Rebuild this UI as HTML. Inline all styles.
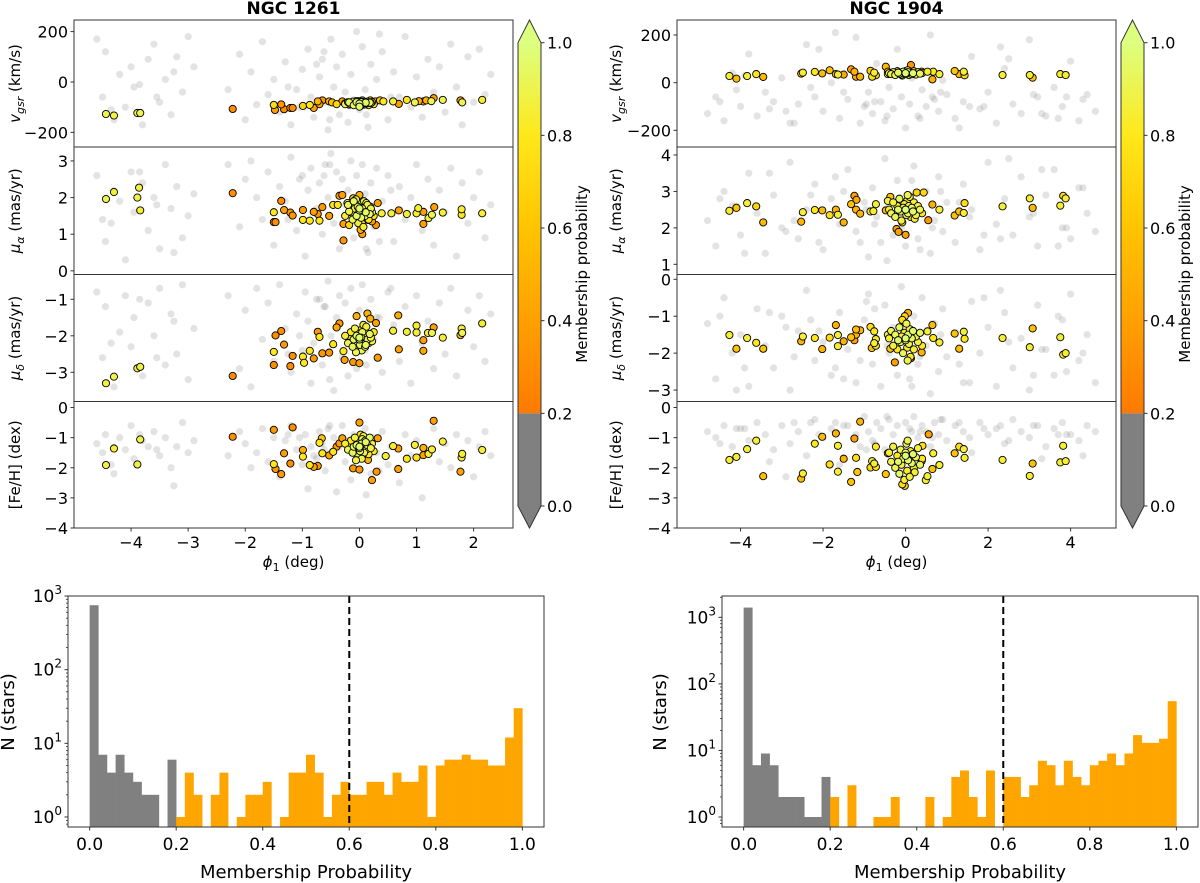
<!DOCTYPE html>
<html><head><meta charset="utf-8"><style>
body{margin:0;background:#fff}
svg{display:block;font-family:"DejaVu Sans","Liberation Sans",sans-serif}
</style></head><body>
<svg id="fig" width="1200" height="883" viewBox="0 0 1200 883" xmlns="http://www.w3.org/2000/svg">
<defs>
<linearGradient id="cmap" x1="0" y1="1" x2="0" y2="0">
<stop offset="0" stop-color="#ff7a00"/><stop offset="0.25" stop-color="#ffa000"/><stop offset="0.5" stop-color="#ffc400"/><stop offset="0.75" stop-color="#ffe81a"/><stop offset="1" stop-color="#dcff80"/>
</linearGradient>
</defs>
</svg>
<script>
// ---------- DATA ----------
const histCountsL=[750,7,4,7,4,3,2,2,0,6,1,4,2,0,2,4,0,1,2,2,3,0,1,4,4,7,4,1,2,3,2,2,3,3,2,4,3,3,5,1,5,6,6,7,6,6,5,5,12,30];
const histCountsR=[1400,6,9,6,2,2,2,1,1,4,2,0,3,0,0,1,1,2,0,0,0,2,0,1,4,5,2,1,5,0,4,4,2,3,7,6,3,7,4,3,6,7,9,6,9,17,13,13,15,55];
const histTicksX=[0,0.2,0.4,0.6,0.8,1.0];
const cbTicks=[0,0.2,0.4,0.6,0.8,1.0];

const bgPhiL=[-4.6,-4.5,-4.45,-4.3,-4.2,-4.1,-4.0,-3.95,-3.8,-3.7,-3.6,-3.5,-3.4,-3.3,-3.2,-3.1,-3.0,-2.9,-4.35,-3.85,-3.55,-3.25,-2.3,-2.1,-2.0,-1.9,-1.8,-1.7,-1.6,-1.5,-1.4,-1.3,-1.2,-1.1,-1.0,-0.95,-0.9,-0.85,-0.8,-0.7,-0.65,-0.6,-0.55,-0.5,-0.45,-0.4,-0.35,-0.3,-0.25,-0.2,-0.15,-0.1,-0.05,0.0,0.05,0.1,0.15,0.2,0.25,0.3,0.4,0.5,0.6,0.7,0.8,0.9,1.0,1.1,1.2,1.3,1.4,1.5,1.6,1.7,1.8,1.9,2.0,2.1,2.2,2.3,-1.05,-0.75,-0.52,0.35,0.55,-1.25,-0.62,0.12];
const bgVL=[170,-60,120,-150,30,-100,60,-20,-170,90,150,-80,10,-130,100,-40,180,60,-110,-10,-60,40,-30,110,-150,40,-90,160,-50,10,-120,80,-170,-30,50,-100,130,-60,-140,20,90,-80,-190,170,-20,60,-130,110,-40,-160,30,-70,200,-110,140,-30,-180,70,-90,10,120,-150,40,-60,180,-100,20,-140,90,-40,60,-120,150,-20,-170,100,-80,130,-50,30,-100,70,-150,190,-60,-20,120,-130];
const bgPmraL=[2.6,1.4,0.8,2.2,1.9,0.3,2.7,1.6,2.4,1.1,2.0,0.6,2.9,1.7,2.3,0.9,1.5,2.1,1.3,2.7,1.8,0.5,2.9,1.2,2.5,3.0,2.0,1.4,2.7,0.7,2.3,1.9,3.1,1.1,2.6,0.4,2.2,2.8,1.6,2.4,1.0,2.9,2.0,3.2,1.3,2.7,0.6,2.5,1.8,2.2,3.0,0.9,2.6,1.5,2.9,2.1,0.5,2.4,1.2,2.8,1.9,2.6,0.8,2.3,1.4,2.0,2.9,1.1,2.5,0.7,2.2,1.6,2.8,0.4,2.4,1.3,2.0,2.7,0.9,1.8,2.5,1.7,2.9,0.8,2.2,1.4,2.6,0.6];
const bgPmdecL=[-0.8,-2.6,-1.2,-3.4,-1.9,-0.9,-2.3,-1.5,-3.1,-1.1,-2.0,-0.7,-2.8,-1.4,-2.5,-0.6,-3.2,-1.8,-2.2,-1.0,-2.6,-1.6,-0.9,-2.9,-1.3,-3.4,-0.7,-2.1,-1.1,-2.7,-0.6,-1.8,-3.0,-1.4,-2.4,-0.8,-1.6,-3.3,-2.2,-1.0,-2.8,-1.2,-0.5,-2.0,-3.5,-1.5,-0.9,-2.6,-1.1,-3.1,-0.7,-1.9,-2.9,-1.3,-0.6,-2.4,-3.4,-1.0,-2.1,-1.5,-3.0,-0.8,-1.7,-2.7,-1.2,-3.3,-0.9,-2.2,-1.6,-2.9,-1.1,-2.5,-0.7,-3.1,-1.8,-1.3,-2.3,-0.9,-2.7,-1.4,-2.0,-1.0,-3.2,-1.5,-0.7,-2.5,-1.2,-2.8];
const bgFehL=[-1.2,-1.5,-0.9,-2.2,-1.0,-1.4,-0.6,-1.7,-1.1,-1.3,-0.8,-1.6,-1.0,-2.0,-1.3,-0.5,-1.5,-1.1,-1.9,-0.9,-1.4,-2.6,-1.6,-0.8,-1.2,-2.0,-1.5,-0.7,-1.8,-1.0,-2.3,-1.1,-0.6,-1.4,-1.9,-0.9,-2.7,-1.3,-1.6,-0.8,-1.2,-2.1,-0.7,-1.5,-1.0,-2.8,-1.3,-0.6,-1.8,-1.1,-2.4,-0.9,-1.4,-3.6,-1.2,-0.7,-1.7,-2.2,-1.0,-1.5,-0.8,-1.9,-1.3,-2.5,-0.9,-1.6,-1.1,-3.0,-1.4,-0.7,-1.8,-1.2,-2.0,-0.9,-1.5,-1.1,-2.3,-1.3,-0.8,-1.6,-1.0,-1.7,-0.6,-2.1,-1.3,-0.9,-1.4,-2.9];

const bgPhiR=[-4.8,-4.6,-4.4,-4.2,-4.0,-3.8,-3.6,-3.4,-3.2,-3.0,-2.8,-2.6,-2.4,-2.2,-2.0,-1.8,-1.6,-1.4,-1.2,-1.0,-0.9,-0.8,-0.7,-0.6,-0.5,-0.4,-0.3,-0.2,-0.1,0.0,0.1,0.2,0.3,0.4,0.5,0.6,0.7,0.8,0.9,1.0,1.2,1.4,1.6,1.8,2.0,2.2,2.4,2.6,2.8,3.0,3.2,3.4,3.6,3.8,4.0,4.2,4.4,4.6,-4.5,-3.9,-3.3,-2.7,-2.1,-1.5,-0.95,-0.45,0.15,0.65,1.3,1.9,2.5,3.1,3.7,4.3,-4.1,-2.9,-1.7,-0.75,0.35,0.85,1.55,2.3,3.3,3.9,-2.3,-1.1];
const bgVR=[-130,-60,-160,40,-100,120,-140,-40,-80,20,-170,-90,160,-60,-120,0,-150,-70,190,-100,-40,-130,80,-80,-160,-20,-110,140,-60,-190,-90,50,-140,-30,-100,200,-70,-120,10,-50,-150,-80,110,-110,-40,-170,60,-90,-130,180,-60,-140,-20,-100,90,-160,-50,-120,-80,30,-110,-170,140,-40,-90,-140,20,-60,-190,-100,100,-50,-150,-70,-30,-120,210,-80,-150,-40,-100,150,-130,-60,-20,-170];
const bgPmraR=[2.2,1.5,3.0,2.6,1.8,3.5,2.4,1.3,2.9,2.0,3.8,1.7,2.5,3.2,1.4,2.8,2.1,3.6,1.9,2.7,1.2,3.1,2.3,1.6,3.9,2.6,1.8,3.3,2.0,1.5,2.9,3.7,1.7,2.4,3.0,1.3,2.2,3.4,1.9,2.7,1.6,3.2,2.5,1.4,3.8,2.1,2.8,1.8,3.4,2.3,1.5,2.9,3.6,2.0,1.7,3.1,2.4,1.9,2.8,1.3,3.5,2.2,1.6,3.0,2.5,1.1,3.3,2.0,2.7,1.8,3.9,2.4,1.5,3.1,2.6,1.9,3.4,2.1,1.4,3.0,2.3,1.7,3.6,2.0,2.9,1.6];
const bgPmdecR=[-1.2,-2.7,-0.5,-2.0,-1.5,-2.9,-0.8,-1.8,-2.4,-1.0,-3.0,-1.4,-0.3,-2.2,-1.7,-2.6,-0.9,-1.9,-2.8,-1.1,-0.4,-2.3,-1.6,-2.9,-0.7,-2.0,-1.3,-2.6,-0.2,-1.9,-2.7,-1.0,-2.3,-0.5,-1.8,-3.1,-1.2,-2.5,-0.8,-2.1,-1.5,-2.8,-0.6,-2.0,-1.3,-2.9,-0.9,-2.4,-1.6,-3.0,-0.7,-1.9,-2.6,-1.1,-0.4,-2.2,-1.5,-2.8,-1.0,-2.4,-0.9,-2.1,-1.4,-2.7,-0.6,-1.8,-2.9,-1.2,-2.3,-0.5,-1.7,-2.6,-1.0,-2.0,-3.0,-1.3,-2.4,-0.8,-2.1,-1.5,-2.8,-0.3,-1.9,-2.5,-1.1,-2.2];
const bgFehR=[-0.8,-1.0,-0.6,-1.3,-0.7,-1.1,-0.5,-0.9,-1.4,-0.6,-1.2,-0.8,-1.6,-0.4,-1.0,-0.7,-1.9,-0.6,-0.9,-0.3,-0.8,-1.1,-0.5,-0.7,-1.4,-0.4,-0.9,-0.6,-2.1,-0.5,-0.7,-0.3,-1.0,-0.6,-0.8,-1.3,-0.5,-0.9,-0.4,-1.1,-0.6,-0.8,-1.5,-0.5,-0.9,-0.7,-1.2,-0.4,-0.8,-1.0,-0.6,-1.3,-0.7,-0.5,-0.9,-1.1,-0.6,-0.8,-1.2,-0.7,-1.8,-0.5,-0.9,-0.6,-1.4,-0.3,-0.8,-1.0,-0.5,-0.7,-1.1,-0.6,-0.9,-1.6,-0.7,-2.3,-0.5,-1.2,-0.8,-0.4,-1.0,-0.6,-1.7,-0.9,-0.5,-1.3];

const corePhiL=[-0.25,-0.2,-0.15,-0.12,-0.1,-0.08,-0.05,-0.03,-0.02,0,0.01,0.02,0.03,0.04,0.05,0.06,0.08,0.1,0.12,0.14,0.16,0.18,0.2,0.22,0.25,-0.18,-0.06,0.07,0.11,0.0];
const coreVL=[-85,-80,-88,-78,-92,-84,-80,-90,-76,-86,-82,-94,-80,-78,-88,-84,-90,-80,-86,-78,-92,-82,-84,-80,-88,-90,-76,-86,-82,-98];
const corePmraL=[1.5,1.8,1.6,1.4,1.9,1.7,1.5,1.75,1.3,1.65,1.55,1.85,1.45,1.6,1.7,1.35,1.9,1.5,1.65,1.8,1.4,1.55,1.7,1.6,1.5,1.25,1.95,1.2,1.6,1.7];
const corePmdecL=[-2.0,-2.2,-1.9,-2.3,-2.1,-1.8,-2.0,-2.35,-1.95,-2.1,-2.25,-1.85,-2.05,-2.4,-1.9,-2.15,-2.0,-2.3,-1.75,-2.1,-2.2,-1.95,-2.05,-2.15,-1.9,-2.0,-2.45,-1.7,-2.25,-2.05];
const coreFehL=[-1.2,-1.4,-1.1,-1.5,-1.3,-1.0,-1.25,-1.6,-1.15,-1.35,-1.45,-0.9,-1.2,-1.7,-1.05,-1.3,-1.5,-1.1,-1.4,-1.25,-1.55,-1.0,-1.35,-1.2,-1.45,-1.3,-1.75,-0.95,-1.15,-1.3];
const coreProbL=[0.85,0.9,0.8,0.92,0.95,0.88,0.96,0.9,0.85,0.97,0.93,0.8,0.95,0.9,0.92,0.75,0.88,0.94,0.86,0.9,0.82,0.95,0.9,0.87,0.8,0.7,0.9,0.85,0.95,0.97];

const corePhiR=[-0.4,-0.35,-0.3,-0.25,-0.2,-0.15,-0.12,-0.1,-0.06,-0.03,0,0.02,0.04,0.06,0.08,0.1,0.12,0.15,0.18,0.2,0.25,0.3,0.35,0.4,-0.08,0.05,-0.18,0.22,0.0,-0.02];
const coreVR=[40,36,44,32,48,38,42,34,46,40,36,50,38,44,32,42,46,36,40,48,34,44,38,40,30,52,42,36,40,44];
const corePmraR=[2.5,2.4,2.7,2.3,2.6,2.8,2.45,2.2,2.55,2.65,2.5,2.35,2.75,2.4,2.6,2.85,2.3,2.55,2.45,2.7,2.35,2.6,2.5,2.4,2.15,2.9,2.5,2.25,2.5,2.6];
const corePmdecR=[-1.6,-1.4,-1.8,-1.5,-1.9,-1.3,-1.7,-1.55,-2.0,-1.45,-1.65,-1.2,-1.85,-1.5,-1.75,-1.35,-2.1,-1.6,-1.4,-1.9,-1.55,-1.7,-1.45,-1.8,-1.1,-2.2,-1.65,-1.5,-1.6,-1.0];
const coreFehR=[-1.5,-1.8,-1.3,-2.0,-1.6,-2.2,-1.4,-1.9,-1.7,-2.4,-1.5,-1.2,-2.1,-1.75,-1.6,-2.3,-1.45,-1.85,-1.55,-2.0,-1.65,-1.35,-1.9,-1.7,-2.55,-1.1,-1.8,-2.15,-1.6,-2.6];
const coreProbR=[0.85,0.9,0.88,0.92,0.8,0.95,0.9,0.87,0.93,0.85,0.97,0.9,0.82,0.95,0.9,0.88,0.8,0.93,0.96,0.85,0.9,0.87,0.92,0.8,0.75,0.9,0.95,0.85,0.98,0.7];

const mPhiL1=[-4.44,-4.30,-3.89,-3.84,-2.22,-1.5,-1.48,-1.37,-1.32,-1.21,-1.17,-0.99,-0.87,-0.8,-0.73,-0.7,-0.65,-0.53,-0.48,-0.4,-0.3,-0.25,-0.18,-0.11,-0.05,0,0.05,0.09,0.14,0.19,0.28,0.36,0.42,0.59,0.69,0.83,0.97,1.04,1.12,1.17,1.26,1.3,1.46,1.77,1.8,2.15];
const mValL1=[-127,-133,-123,-123,-107,-91,-111,-89,-108,-103,-103,-95,-91,-103,-77,-88,-73,-77,-81,-88,-77,-88,-81,-84,-81,-89,-73,-84,-81,-73,-77,-73,-77,-77,-87,-71,-81,-76,-77,-73,-76,-64,-71,-73,-81,-71];
const mProbL1=[0.9,0.88,0.9,0.9,0.3,0.75,0.4,0.35,0.3,0.3,0.3,0.7,0.8,0.4,0.5,0.45,0.35,0.5,0.6,0.7,0.4,0.9,0.95,0.9,0.95,0.95,0.8,0.95,0.9,0.5,0.4,0.6,0.8,0.85,0.4,0.8,0.9,0.5,0.4,0.5,0.9,0.4,0.9,0.4,0.9,0.85];
const mPhiL2=[-4.44,-4.3,-3.89,-3.86,-3.84,-2.22,-1.5,-1.5,-1.47,-1.37,-1.32,-1.21,-1.17,-0.99,-0.99,-0.87,-0.8,-0.73,-0.7,-0.65,-0.53,-0.46,-0.38,-0.35,-0.3,-0.28,-0.28,-0.21,-0.18,-0.11,-0.08,-0.05,0,0.02,0.05,0.09,0.12,0.15,0.19,0.22,0.29,0.32,0.39,0.56,0.69,0.83,1.0,1.03,1.12,1.12,1.21,1.27,1.31,1.46,1.79,1.79,2.15];
const mValL2=[1.96,2.15,2.0,2.27,1.65,2.12,1.6,1.33,1.33,1.91,1.66,1.59,1.51,1.66,1.39,1.37,1.61,1.55,1.37,1.74,1.5,1.8,1.8,2.05,2.07,1.28,0.83,1.85,1.62,1.98,1.57,1.89,2.07,1.12,1.0,1.57,1.85,1.39,1.75,1.35,1.25,1.85,1.57,1.57,1.65,1.55,1.57,1.71,1.61,1.28,1.44,1.53,1.74,1.59,1.68,1.53,1.57];
const mProbL2=[0.9,0.85,0.9,0.88,0.85,0.3,0.8,0.3,0.3,0.3,0.4,0.35,0.35,0.4,0.8,0.8,0.4,0.35,0.8,0.35,0.4,0.8,0.8,0.4,0.4,0.4,0.35,0.85,0.9,0.6,0.8,0.7,0.5,0.5,0.4,0.9,0.9,0.8,0.8,0.4,0.35,0.4,0.85,0.85,0.4,0.85,0.85,0.85,0.4,0.4,0.85,0.9,0.4,0.85,0.85,0.8,0.85];
const mPhiL3=[-4.44,-4.3,-3.89,-3.84,-2.22,-1.5,-1.5,-1.47,-1.37,-1.32,-1.21,-1.17,-0.99,-0.97,-0.87,-0.8,-0.73,-0.7,-0.65,-0.53,-0.46,-0.4,-0.35,-0.28,-0.26,-0.11,-0.05,0,0.14,0.19,0.29,0.32,0.59,0.68,0.69,0.83,1.0,1.0,1.12,1.12,1.2,1.27,1.3,1.46,1.77,1.79,1.8,2.15];
const mValL3=[-3.3,-3.12,-2.89,-2.85,-3.1,-2.44,-2.8,-1.99,-1.87,-2.24,-2.83,-2.55,-2.57,-2.74,-2.41,-2.62,-1.89,-2.03,-2.48,-2.46,-2.23,-1.77,-1.66,-2.42,-2.66,-2.72,-1.46,-2.75,-1.39,-1.53,-1.65,-2.6,-1.86,-1.44,-2.37,-1.89,-1.72,-1.91,-2.12,-2.41,-1.92,-1.92,-1.77,-2.05,-1.98,-1.8,-1.92,-1.66];
const mProbL3=[0.88,0.88,0.88,0.88,0.3,0.8,0.3,0.3,0.3,0.35,0.3,0.3,0.8,0.8,0.8,0.35,0.35,0.8,0.35,0.35,0.8,0.45,0.35,0.8,0.4,0.35,0.5,0.4,0.5,0.5,0.4,0.4,0.85,0.45,0.4,0.85,0.85,0.85,0.4,0.45,0.85,0.9,0.4,0.85,0.5,0.85,0.9,0.85];
const mPhiL4=[-4.44,-4.3,-3.89,-3.84,-2.22,-1.5,-1.5,-1.47,-1.37,-1.32,-1.21,-1.17,-0.99,-0.99,-0.87,-0.8,-0.73,-0.7,-0.66,-0.65,-0.53,-0.46,-0.4,-0.35,-0.3,-0.11,0,0,0.15,0.22,0.3,0.32,0.46,0.59,0.68,0.68,0.83,0.97,1.0,1.12,1.12,1.21,1.27,1.3,1.46,1.77,1.79,1.8,2.15];
const mValL4=[-1.91,-1.36,-1.89,-1.06,-0.97,-0.74,-1.88,-2.04,-2.21,-1.52,-1.86,-0.66,-1.41,-1.63,-1.91,-1.97,-1.94,-1.17,-1.02,-1.52,-1.59,-1.47,-1.3,-1.19,-1.02,-2.02,-0.5,-2.06,-1.74,-2.41,-2.13,-1.02,-1.61,-1.28,-1.36,-2.04,-1.7,-1.24,-1.66,-1.34,-1.58,-1.54,-1.39,-0.44,-1.13,-2.13,-1.66,-1.54,-1.41];
const mProbL4=[0.88,0.85,0.88,0.88,0.3,0.35,0.8,0.35,0.35,0.4,0.3,0.3,0.5,0.8,0.8,0.4,0.35,0.8,0.6,0.8,0.4,0.8,0.35,0.4,0.4,0.35,0.4,0.35,0.5,0.4,0.35,0.4,0.85,0.85,0.4,0.4,0.8,0.85,0.8,0.5,0.4,0.85,0.85,0.4,0.85,0.4,0.85,0.85,0.85];

const mPhiR1=[-4.27,-4.1,-3.84,-3.62,-3.45,-2.53,-2.49,-2.2,-2.02,-1.84,-1.69,-1.64,-1.5,-1.32,-1.24,-1.2,-1.1,-0.85,-0.81,-0.76,-0.72,-0.48,-0.43,-0.43,0.13,0.39,0.53,0.65,0.67,0.82,1.19,1.3,1.41,1.43,2.35,3.01,3.08,3.75,3.88];
const mValR1=[28,17,28,36,24,38,42,45,39,52,36,34,34,56,46,25,25,50,25,42,31,67,46,36,74,46,46,14,46,36,49,36,46,31,32,32,21,36,32];
const mProbR1=[0.85,0.55,0.85,0.8,0.55,0.5,0.85,0.8,0.55,0.6,0.55,0.85,0.45,0.4,0.5,0.45,0.5,0.65,0.75,0.85,0.7,0.55,0.7,0.85,0.35,0.55,0.85,0.5,0.8,0.85,0.6,0.55,0.85,0.75,0.85,0.85,0.6,0.85,0.85];
const mPhiR2=[-4.27,-4.1,-3.84,-3.62,-3.45,-2.53,-2.49,-2.2,-2.02,-1.84,-1.69,-1.64,-1.5,-1.32,-1.24,-1.19,-1.2,-1.1,-0.85,-0.78,-0.72,-0.48,-0.43,-0.37,-0.22,-0.17,0,0.27,0.44,0.55,0.65,0.82,1.19,1.3,1.41,1.43,2.35,3.01,3.08,3.75,3.82,3.88];
const mValR2=[2.47,2.55,2.68,2.59,2.15,2.17,2.43,2.49,2.48,2.35,2.5,2.36,2.15,2.65,2.88,2.77,2.5,2.39,2.45,2.46,2.65,2.48,2.74,2.85,1.97,1.89,1.81,2.97,2.97,2.21,2.64,2.5,2.34,2.45,2.41,2.68,2.59,2.81,2.55,2.61,2.88,2.81];
const mProbR2=[0.85,0.6,0.85,0.7,0.55,0.5,0.85,0.8,0.55,0.75,0.5,0.85,0.5,0.6,0.4,0.45,0.5,0.5,0.8,0.85,0.85,0.5,0.85,0.6,0.4,0.4,0.4,0.7,0.7,0.35,0.5,0.85,0.6,0.6,0.85,0.75,0.85,0.85,0.55,0.85,0.75,0.85];
const mPhiR3=[-4.27,-4.1,-3.84,-3.62,-3.45,-2.53,-2.49,-2.2,-2.02,-1.84,-1.69,-1.64,-1.64,-1.5,-1.32,-1.24,-1.2,-1.2,-1.1,-0.85,-0.82,-0.76,-0.76,-0.72,-0.72,-0.43,-0.37,-0.26,0.06,0.13,0.39,0.53,0.65,0.67,0.82,1.19,1.3,1.41,1.43,2.35,3.01,3.08,3.75,3.82,3.88];
const mValR3=[-1.51,-1.88,-1.59,-1.72,-1.88,-1.68,-1.55,-1.59,-1.89,-1.58,-1.24,-1.51,-1.81,-1.68,-1.57,-1.65,-1.36,-1.5,-1.38,-1.29,-1.86,-1.41,-1.73,-1.62,-1.8,-1.5,-1.88,-2.25,-0.91,-2.14,-1.98,-1.41,-1.24,-1.59,-1.71,-1.47,-1.88,-1.42,-1.61,-1.59,-1.84,-1.33,-1.57,-2.04,-2.0];
const mProbR3=[0.85,0.6,0.85,0.8,0.6,0.5,0.85,0.8,0.5,0.75,0.5,0.85,0.85,0.5,0.6,0.4,0.55,0.5,0.5,0.75,0.6,0.8,0.85,0.8,0.75,0.85,0.6,0.4,0.5,0.35,0.5,0.85,0.55,0.8,0.85,0.6,0.55,0.85,0.8,0.85,0.85,0.6,0.85,0.85,0.85];
const mPhiR4=[-4.27,-4.1,-3.84,-3.62,-3.45,-2.53,-2.49,-2.2,-2.02,-1.84,-1.69,-1.64,-1.64,-1.5,-1.32,-1.24,-1.2,-1.17,-1.1,-0.85,-0.81,-0.76,-0.72,-0.72,-0.48,-0.43,0.39,0.41,0.49,0.53,0.56,0.65,0.67,0.82,1.19,1.3,1.41,1.43,2.35,3.01,3.08,3.75,3.82,3.88];
const mValR4=[-1.74,-1.64,-1.38,-1.1,-2.28,-2.36,-2.19,-1.2,-0.97,-1.89,-0.86,-1.27,-2.13,-1.7,-2.47,-1.03,-1.67,-2.14,-0.47,-1.99,-1.78,-1.86,-1.3,-1.97,-2.21,-1.52,-1.78,-1.27,-2.41,-2.28,-0.89,-2.04,-1.52,-1.91,-1.52,-1.3,-1.38,-1.67,-1.74,-2.27,-1.86,-1.82,-1.27,-1.78];
const mProbR4=[0.85,0.85,0.85,0.85,0.6,0.55,0.85,0.8,0.55,0.75,0.5,0.85,0.85,0.5,0.6,0.4,0.75,0.6,0.5,0.7,0.85,0.85,0.8,0.8,0.6,0.85,0.5,0.75,0.85,0.85,0.4,0.6,0.85,0.85,0.6,0.75,0.85,0.85,0.85,0.85,0.6,0.85,0.85,0.85];

// ---------- DRAWING ----------
const NS="http://www.w3.org/2000/svg";
const svg=document.getElementById('fig');
function mk(tag,attrs,parent){const e=document.createElementNS(NS,tag);for(const k in attrs)e.setAttribute(k,attrs[k]);(parent||svg).appendChild(e);return e;}
function hex(h){return [parseInt(h.slice(1,3),16),parseInt(h.slice(3,5),16),parseInt(h.slice(5,7),16)];}
const stops=[[0.2,'#ff7a00'],[0.4,'#ffa000'],[0.6,'#ffc400'],[0.8,'#ffe81a'],[1.0,'#dcff80']];
function cmap(p){
  if(p<0.2)return '#808080';
  for(let i=0;i<stops.length-1;i++){const a=stops[i],b=stops[i+1];
    if(p<=b[0]){const t=(p-a[0])/(b[0]-a[0]);const A=hex(a[1]),B=hex(b[1]);
      return 'rgb('+A.map((v,j)=>Math.round(v+(B[j]-v)*t)).join(',')+')';}}
  return stops[stops.length-1][1];
}
function txt(x,y,s,opts,parent){const t=mk('text',Object.assign({x:x,y:y,'font-size':16,fill:'#000'},opts||{}),parent);t.textContent=s;return t;}

let clipId=0;
function scatterPanel(c){
  const g=mk('g',{});
  
  
  const sx=v=>c.x0+(v-c.xmin)/(c.xmax-c.xmin)*(c.x1-c.x0);
  const sy=v=>c.y1-(v-c.ymin)/(c.ymax-c.ymin)*(c.y1-c.y0);
  const id='clip'+(clipId++);
  const cp=mk('clipPath',{id:id},g);mk('rect',{x:c.x0,y:c.y0,width:c.x1-c.x0,height:c.y1-c.y0},cp);
  const pts=mk('g',{'clip-path':'url(#'+id+')'},g);
  const nb=Math.min(c.bgx.length,c.bgy.length);
  for(let i=0;i<nb;i++){const e=mk('circle',{cx:sx(c.bgx[i]),cy:sy(c.bgy[i]),r:3.6,fill:'rgba(128,128,128,0.22)'},pts);
    
    }
  const mem=[];
  const nm=Math.min(c.mx.length,c.my.length,c.mp.length);
  for(let i=0;i<nm;i++)mem.push([c.mx[i],c.my[i],c.mp[i]]);
  const nc=Math.min(c.cx.length,c.cy.length,c.cpr.length);
  for(let i=0;i<nc;i++)mem.push([c.cx[i],c.cy[i],c.cpr[i]]);
  mem.sort((a,b)=>a[2]-b[2]);
  mem.forEach(m=>{const e=mk('circle',{cx:sx(m[0]),cy:sy(m[1]),r:3.6,fill:cmap(m[2]),stroke:'#000','stroke-width':0.9},pts);
    
    });
  const fr=mk('rect',{x:c.x0,y:c.y0,width:c.x1-c.x0,height:c.y1-c.y0,fill:'none',stroke:'#333','stroke-width':1},g);
  
  
  c.yticks.forEach(v=>{const y=sy(v);mk('line',{x1:c.x0-3.5,x2:c.x0,y1:y,y2:y,stroke:'#333','stroke-width':1},g);
    const t=txt(c.x0-6,y+6,(v<0?'\u2212':'')+Math.abs(v),{'text-anchor':'end'},g);
    
    });
  if(c.xticks){c.xticks.forEach(v=>{const x=sx(v);mk('line',{x1:x,x2:x,y1:c.y1,y2:c.y1+3.5,stroke:'#333','stroke-width':1},g);
    const t=txt(x,c.y1+20,(v<0?'\u2212':'')+Math.abs(v),{'text-anchor':'middle'},g);
    
    });}
  const yl=mk('text',{transform:'translate('+c.ylx+','+((c.y0+c.y1)/2)+') rotate(-90)','text-anchor':'middle','font-size':15},g);
  
  
  yl.innerHTML=c.ylabel;
}
function cluster(o){
  const P=[[20,147],[147,274.5],[274.5,401.5],[401.5,528]];
  const base={x0:o.x0,x1:o.x1,xmin:o.xmin,xmax:o.xmax,ylx:o.ylx};
  const labels=['<tspan font-style="italic">v</tspan><tspan font-size="11" font-style="italic" dy="4">gsr</tspan><tspan dy="-4"> (km/s)</tspan>',
    '<tspan font-style="italic">\u03bc</tspan><tspan font-size="11" font-style="italic" dy="4">\u03b1</tspan><tspan dy="-4"> (mas/yr)</tspan>',
    '<tspan font-style="italic">\u03bc</tspan><tspan font-size="11" font-style="italic" dy="4">\u03b4</tspan><tspan dy="-4"> (mas/yr)</tspan>',
    '[Fe/H] (dex)'];
  for(let k=0;k<4;k++){
    scatterPanel(Object.assign({},base,{name:o.prefix+'-panel-'+(k+1),y0:P[k][0],y1:P[k][1],ymin:o.ylims[k][0],ymax:o.ylims[k][1],
      yticks:o.yticks[k],xticks:k==3?o.xticks:null,bgx:o.bgPhi,bgy:o.bg[k],mx:o.mPhi[k],my:o.mVal[k],mp:o.mProb[k],
      cx:o.corePhi,cy:o.core[k],cpr:o.coreProb,ylabel:labels[k]}));
  }
  const t=txt((o.x0+o.x1)/2,14,o.title,{'text-anchor':'middle','font-weight':'bold','font-size':17});
  
  
  const xl=mk('text',{x:(o.x0+o.x1)/2,y:567,'text-anchor':'middle','font-size':15});
  
  
  xl.innerHTML='<tspan font-style="italic">\u03d5</tspan><tspan font-size="11" dy="4">1</tspan><tspan dy="-4"> (deg)</tspan>';
  const cb=mk('g',{});
  
  
  const a=o.cbx,b=o.cbx+23,m=(a+b)/2,y1=42.7,y0=506;
  const yv=p=>y0-(y0-y1)*p;
  mk('path',{d:'M'+a+','+y1+' L'+m+',20 L'+b+','+y1+' Z',fill:'#dcff80'},cb);
  mk('rect',{x:a,y:y1,width:23,height:yv(0.2)-y1,fill:'url(#cmap)'},cb);
  mk('rect',{x:a,y:yv(0.2),width:23,height:y0-yv(0.2),fill:'#808080'},cb);
  mk('path',{d:'M'+a+','+y0+' L'+m+',528 L'+b+','+y0+' Z',fill:'#808080'},cb);
  mk('path',{d:'M'+a+','+y1+' L'+m+',20 L'+b+','+y1+' L'+b+','+y0+' L'+m+',528 L'+a+','+y0+' Z',fill:'none',stroke:'#333','stroke-width':1},cb);
  cbTicks.forEach(p=>{const y=yv(p);mk('line',{x1:b,x2:b+3.5,y1:y,y2:y,stroke:'#333'},cb);
    const tt=txt(b+6,y+6,p.toFixed(1),{},cb);
    
    });
  const cl=txt(0,0,'Membership probability',{transform:'translate('+(b+46)+',274) rotate(-90)','text-anchor':'middle','font-size':15},cb);
  
  
}
cluster({prefix:'ngc1261',title:'NGC 1261',x0:74,x1:513,xmin:-5.0,xmax:2.69,ylx:20,cbx:518,
  ylims:[[-258,246],[-0.1,3.38],[-3.8,-0.32],[-4,0.2]],
  yticks:[[-200,0,200],[0,1,2,3],[-1,-2,-3],[0,-1,-2,-3,-4]],xticks:[-4,-3,-2,-1,0,1,2],
  bgPhi:bgPhiL,bg:[bgVL,bgPmraL,bgPmdecL,bgFehL],
  mPhi:[mPhiL1,mPhiL2,mPhiL3,mPhiL4],mVal:[mValL1,mValL2,mValL3,mValL4],mProb:[mProbL1,mProbL2,mProbL3,mProbL4],
  corePhi:corePhiL,core:[coreVL,corePmraL,corePmdecL,coreFehL],coreProb:coreProbL});
cluster({prefix:'ngc1904',title:'NGC 1904',x0:677,x1:1116,xmin:-5.54,xmax:5.1,ylx:621,cbx:1121,
  ylims:[[-270,263],[0.72,4.22],[-3.31,0.13],[-4,0.2]],
  yticks:[[-200,0,200],[1,2,3,4],[0,-1,-2,-3],[0,-1,-2,-3,-4]],xticks:[-4,-2,0,2,4],
  bgPhi:bgPhiR,bg:[bgVR,bgPmraR,bgPmdecR,bgFehR],
  mPhi:[mPhiR1,mPhiR2,mPhiR3,mPhiR4],mVal:[mValR1,mValR2,mValR3,mValR4],mProb:[mProbR1,mProbR2,mProbR3,mProbR4],
  corePhi:corePhiR,core:[coreVR,corePmraR,corePmdecR,coreFehR],coreProb:coreProbR});

function hist(o){
  const g=mk('g',{});
  
  
  const y0=596,y1=827;
  const sx=v=>o.x0+(v+0.05)/1.1*(o.x1-o.x0);
  const sy=l=>y1-(l-o.lmin)/(o.lmax-o.lmin)*(y1-y0);
  o.counts.forEach((n,i)=>{if(n<=0)return;const p=i*0.02;
    const r=mk('rect',{x:sx(p),y:sy(Math.log10(n)),width:sx(p+0.02)-sx(p)+0.3,height:y1-sy(Math.log10(n)),fill:p<0.199?'#808080':'#ffa500'},g);
    
    });
  const dl=mk('line',{x1:sx(0.6),x2:sx(0.6),y1:y0,y2:y1,stroke:'#000','stroke-width':2,'stroke-dasharray':'7,4'},g);
  
  
  mk('rect',{x:o.x0,y:y0,width:o.x1-o.x0,height:y1-y0,fill:'none',stroke:'#333','stroke-width':1},g);
  histTicksX.forEach(v=>{const x=sx(v);mk('line',{x1:x,x2:x,y1:y1,y2:y1+3.5,stroke:'#333'},g);
    const t=txt(x,y1+23,v.toFixed(1),{'text-anchor':'middle','font-size':17},g);
    
    });
  for(let d=0;d<=3;d++){const y=sy(d);mk('line',{x1:o.x0-3.5,x2:o.x0,y1:y,y2:y,stroke:'#333'},g);
    const t=mk('text',{x:o.x0-6,y:y+6,'text-anchor':'end','font-size':17},g);
    
    
    t.innerHTML='10<tspan font-size="12" dy="-8">'+d+'</tspan>';
    for(let k=2;k<=9;k++){const lv=Math.log10(k)+d-1;
      if(lv>o.lmin&&lv<o.lmax){const yy=sy(lv);mk('line',{x1:o.x0-2,x2:o.x0,y1:yy,y2:yy,stroke:'#333','stroke-width':0.8},g);}}
  }
  for(let k=2;k<=9;k++){const lv=3+Math.log10(k);if(lv<o.lmax){const yy=sy(lv);mk('line',{x1:o.x0-2,x2:o.x0,y1:yy,y2:yy,stroke:'#333','stroke-width':0.8},g);}}
  const yl=txt(0,0,'N (stars)',{transform:'translate('+o.ylx+',712) rotate(-90)','text-anchor':'middle','font-size':18},g);
  
  
  const xl=txt((o.x0+o.x1)/2,878,'Membership Probability',{'text-anchor':'middle','font-size':18},g);
  
  
}
hist({name:'ngc1261-histogram',x0:68,x1:544,lmin:-0.136,lmax:3.0,counts:histCountsL,ylx:14});
hist({name:'ngc1904-histogram',x0:722,x1:1198,lmin:-0.15,lmax:3.32,counts:histCountsR,ylx:666});
</script>
</body></html>
